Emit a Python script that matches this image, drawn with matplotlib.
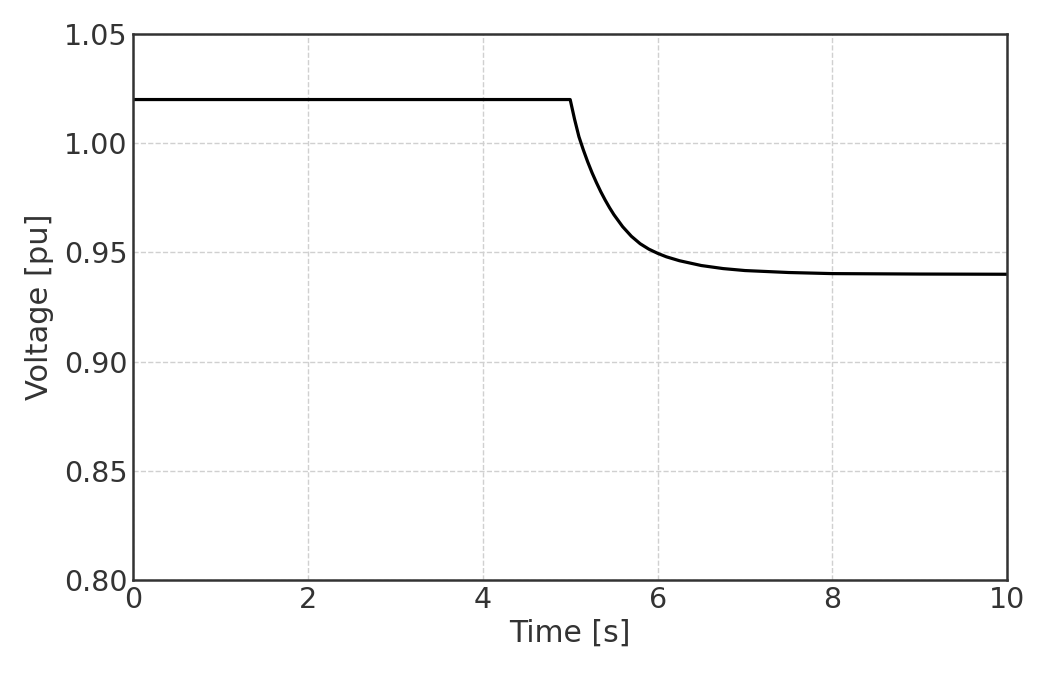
import matplotlib
matplotlib.use("Agg")
import matplotlib.pyplot as plt

# values
time_s = [0.0, 5.0, 5.05, 5.1, 5.15, 5.2, 5.25, 5.3, 5.35, 5.4, 5.45, 5.5,
          5.6, 5.7, 5.8, 5.9, 6.0, 6.1, 6.25, 6.5, 6.75, 7.0, 7.5, 8.0,
          9.0, 10.0]
voltage_pu = [1.020, 1.020, 1.0110, 1.0030, 0.9970, 0.9915, 0.9865, 0.9820,
              0.9778, 0.9740, 0.9705, 0.9673, 0.9618, 0.9574, 0.9540, 0.9515,
              0.9496, 0.9480, 0.9462, 0.9440, 0.9426, 0.9417, 0.9408, 0.9403,
              0.9401, 0.9400]

x_ticks = [0, 2, 4, 6, 8, 10]
y_ticks = [0.80, 0.85, 0.90, 0.95, 1.00, 1.05]

fig = plt.figure(figsize=(10.4, 6.75), dpi=100)
ax = fig.add_axes([0.128, 0.1407, 0.8405, 0.8089])

ax.plot(time_s, voltage_pu, color="black", lw=2.3)

ax.set_xlim(0, 10)
ax.set_ylim(0.80, 1.05)
ax.set_xticks(x_ticks)
ax.set_xticklabels([str(t) for t in x_ticks])
ax.set_yticks(y_ticks)
ax.set_yticklabels(["%.2f" % v for v in y_ticks])
ax.grid(True, ls="--", color="#d0d0d0", lw=1.0)
ax.tick_params(length=0, labelsize=20.5, colors="#333333", pad=4)
for s in ax.spines.values():
    s.set_color("#333333")
    s.set_linewidth(1.8)

ax.set_xlabel("Time [s]", fontsize=21.5, color="#333333", labelpad=4)
ax.set_ylabel("Voltage [pu]", fontsize=22, color="#333333", labelpad=7)

fig.savefig("out.png", dpi=100)
